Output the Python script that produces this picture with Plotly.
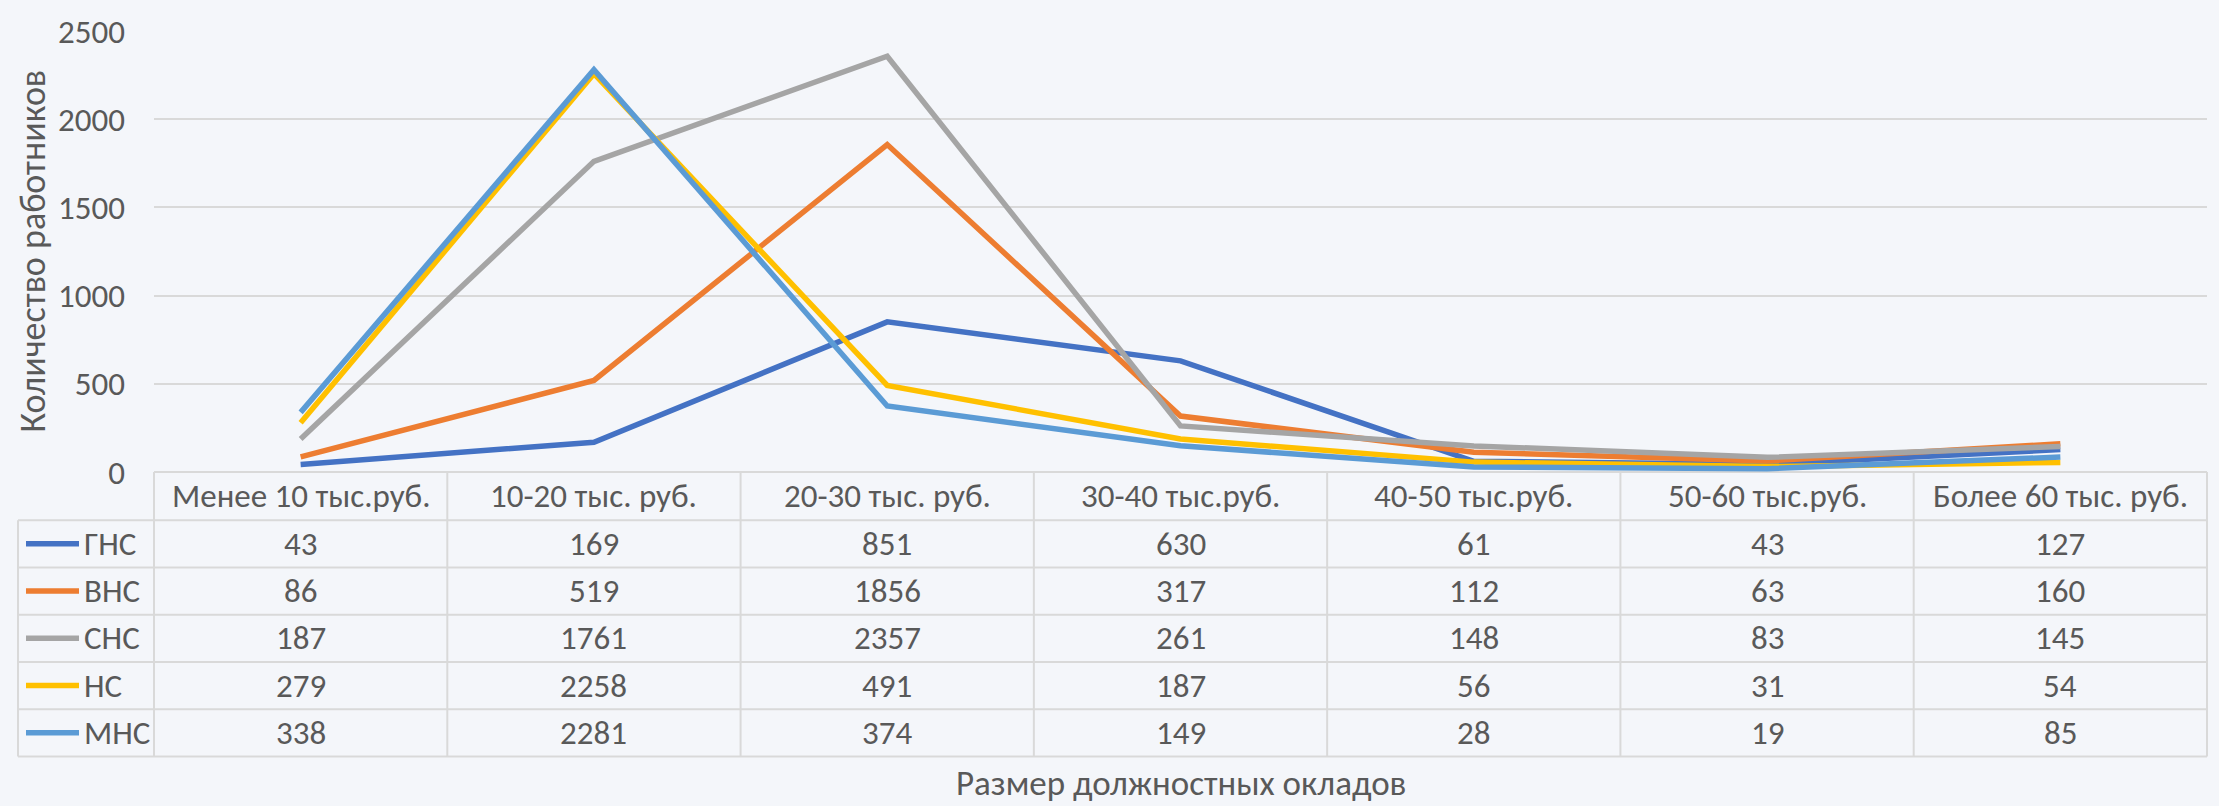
import plotly.graph_objects as go

categories = ["Менее 10 тыс.руб.", "10-20 тыс. руб.", "20-30 тыс. руб.", "30-40 тыс.руб.",
              "40-50 тыс.руб.", "50-60 тыс.руб.", "Более 60 тыс. руб."]
series_names = ["ГНС", "ВНС", "СНС", "НС", "МНС"]
gns = [43, 169, 851, 630, 61, 43, 127]
vns = [86, 519, 1856, 317, 112, 63, 160]
sns = [187, 1761, 2357, 261, 148, 83, 145]
ns = [279, 2258, 491, 187, 56, 31, 54]
mns = [338, 2281, 374, 149, 28, 19, 85]
series_values = [gns, vns, sns, ns, mns]
colors = ["#4472C4", "#ED7D31", "#A5A5A5", "#FFC000", "#5B9BD5"]
y_ticks = [0, 500, 1000, 1500, 2000, 2500]
x_title = "Размер должностных окладов"
y_title = "Количество работников"

W, H = 2219, 806
L, R, T, B = 154, 2207, 24, 472  # plot area in px
PW, PH = R - L, B - T
FONT = "Calibri, Carlito, Lato, 'Noto Sans', sans-serif"
TXT = "#595959"
GRID = "#d9d9d9"
BG = "#f4f6fa"


def px_x(x):
    return (x - L) / PW


def px_y(y):
    return (B - y) / PH


fig = go.Figure()
n = len(categories)
for name, vals, col in zip(series_names, series_values, colors):
    fig.add_trace(go.Scatter(x=list(range(n)), y=vals, mode="lines", name=name,
                             line=dict(color=col, width=5.5), showlegend=False, hoverinfo="skip"))

shapes = []
annotations = []

header_top, header_bot = 472, 521
row_h = 48
row_tops = [header_bot + i * row_h for i in range(len(series_names))]
table_bot = row_tops[-1] + row_h
name_left = 18

line_style = dict(color=GRID, width=2)
shapes.append(dict(type="line", xref="paper", yref="paper", x0=px_x(name_left), x1=1,
                   y0=px_y(header_bot), y1=px_y(header_bot), line=line_style))
for rt in row_tops:
    yb = rt + row_h
    shapes.append(dict(type="line", xref="paper", yref="paper", x0=px_x(name_left), x1=1,
                       y0=px_y(yb), y1=px_y(yb), line=line_style))
for k in range(n + 1):
    shapes.append(dict(type="line", xref="paper", yref="paper", x0=k / n, x1=k / n,
                       y0=px_y(header_top), y1=px_y(table_bot), line=line_style))
shapes.append(dict(type="line", xref="paper", yref="paper", x0=px_x(name_left), x1=px_x(name_left),
                   y0=px_y(header_bot), y1=px_y(table_bot), line=line_style))

fs = 33
for i, c in enumerate(categories):
    annotations.append(dict(xref="paper", yref="paper", x=(i + 0.5) / n,
                            y=px_y((header_top + header_bot) / 2), text=c, showarrow=False,
                            font=dict(family=FONT, size=fs, color=TXT), xanchor="center", yanchor="middle"))

for r, (name, vals, col) in enumerate(zip(series_names, series_values, colors)):
    yc = row_tops[r] + row_h / 2
    shapes.append(dict(type="line", xref="paper", yref="paper", x0=px_x(26), x1=px_x(79),
                       y0=px_y(yc), y1=px_y(yc), line=dict(color=col, width=5.5)))
    annotations.append(dict(xref="paper", yref="paper", x=px_x(82), y=px_y(yc), text=name,
                            showarrow=False, xanchor="left", yanchor="middle",
                            font=dict(family=FONT, size=fs, color=TXT)))
    for i, v in enumerate(vals):
        annotations.append(dict(xref="paper", yref="paper", x=(i + 0.5) / n, y=px_y(yc),
                                text=str(v), showarrow=False, xanchor="center", yanchor="middle",
                                font=dict(family=FONT, size=fs, color=TXT)))

annotations.append(dict(xref="paper", yref="paper", x=0.5, y=px_y(788), text=x_title,
                        showarrow=False, xanchor="center", yanchor="middle",
                        font=dict(family=FONT, size=35, color=TXT)))
annotations.append(dict(xref="paper", yref="paper", x=px_x(32), y=px_y(248), text=y_title,
                        showarrow=False, xanchor="center", yanchor="middle", textangle=-90,
                        font=dict(family=FONT, size=36, color=TXT)))

fig.update_layout(
    width=W, height=H,
    margin=dict(l=L, r=W - R, t=T, b=H - B, pad=0),
    paper_bgcolor=BG, plot_bgcolor=BG,
    shapes=shapes, annotations=annotations,
    xaxis=dict(range=[-0.5, n - 0.5], showticklabels=False, showgrid=False, zeroline=False,
               showline=False, ticks=""),
    yaxis=dict(range=[0, 2500], tickvals=y_ticks, showgrid=True, gridcolor=GRID, gridwidth=2,
               zeroline=True, zerolinecolor=GRID, zerolinewidth=2, showline=False,
               tickfont=dict(family=FONT, size=33, color=TXT), ticklabelstandoff=28),
    font=dict(family=FONT, color=TXT),
)

fig.write_html("out.html", config={"displayModeBar": False},
               post_script="document.body.style.margin='0';document.body.style.background='#f4f6fa';document.body.style.overflow='hidden';")
